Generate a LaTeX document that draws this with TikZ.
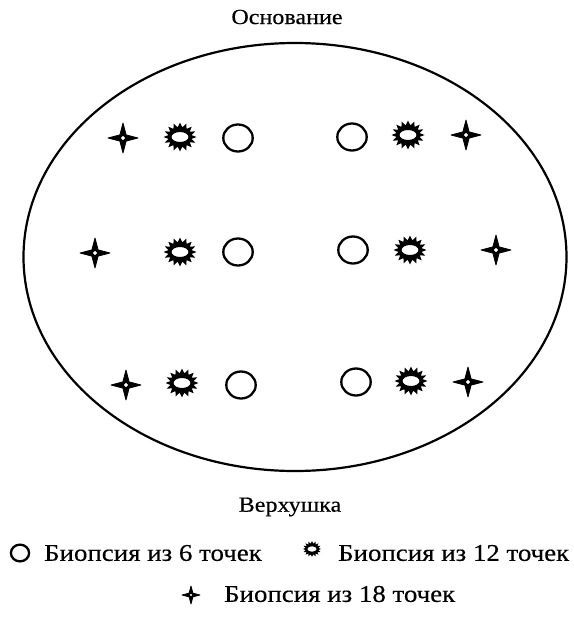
\documentclass[tikz,border=0pt]{standalone}
\usepackage{fontspec}
\setmainfont[FakeStretch=1.12, FakeBold=0.4]{Liberation Serif}
\begin{document}
\begin{tikzpicture}[x=1pt,y=-1pt,
  lbl/.style={inner sep=0pt, font=\fontsize{21.5}{24}\selectfont},
  key/.style={inner sep=0pt, anchor=west, font=\fontsize{24}{27}\selectfont},
  hole/.pic={\draw[line width=2.3pt] (0,0) ellipse (14.7 and 13.5);},
  burst/.pic={\fill[even odd rule]
      plot[samples at={0,11.25,...,349}, variable=\t]
        ({(mod(\t,22.5)==0 ? 16.5 : 11.8)*cos(\t)}, {(mod(\t,22.5)==0 ? 14.5 : 9.8)*sin(\t)}) -- cycle
      (0,0) ellipse (8.5 and 5);},
  sparkle/.pic={\fill[even odd rule]
      (0:15) -- (45:4.4) -- (90:15) -- (135:4.4) -- (180:15) -- (225:4.4) -- (270:15) -- (315:4.4) -- cycle
      (0:2.4) -- (90:2.4) -- (180:2.4) -- (270:2.4) -- cycle;
    \draw[line width=0.8pt, line join=round]
      (0:15) -- (45:4.4) -- (90:15) -- (135:4.4) -- (180:15) -- (225:4.4) -- (270:15) -- (315:4.4) -- cycle;}
]
\useasboundingbox (0,0) rectangle (573,621);

% outline of the organ
\draw[line width=2.2pt] (295,257) ellipse (271.5 and 214);

\node[lbl] (base) at (287,17) {Основание};
\node[lbl] (apex) at (290,507) {Верхушка};

% biopsy points, upper row
\pic at (123,138) {sparkle};
\pic at (180,137) {burst};
\pic at (238,138) {hole};
\pic at (352,137) {hole};
\pic at (408,135) {burst};
\pic at (466,135) {sparkle};

% middle row
\pic at (95,253) {sparkle};
\pic at (180,252) {burst};
\pic at (238,252) {hole};
\pic at (353,250) {hole};
\pic at (410,250) {burst};
\pic at (496,250) {sparkle};

% lower row
\pic at (126,385) {sparkle};
\pic at (182,383) {burst};
\pic at (241,385) {hole};
\pic at (356,382) {hole};
\pic at (411,381) {burst};
\pic at (468,382) {sparkle};

% legend
\pic[scale=0.62] at (20,553) {hole};
\node[key] (l6) at (44,553) {Биопсия из 6 точек};
\pic[scale=0.55] at (312,549) {burst};
\node[key] (l12) at (338,553) {Биопсия из 12 точек};
\pic[scale=0.6] at (191,595) {sparkle};
\node[key] (l18) at (224,594) {Биопсия из 18 точек};
\end{tikzpicture}
\end{document}
